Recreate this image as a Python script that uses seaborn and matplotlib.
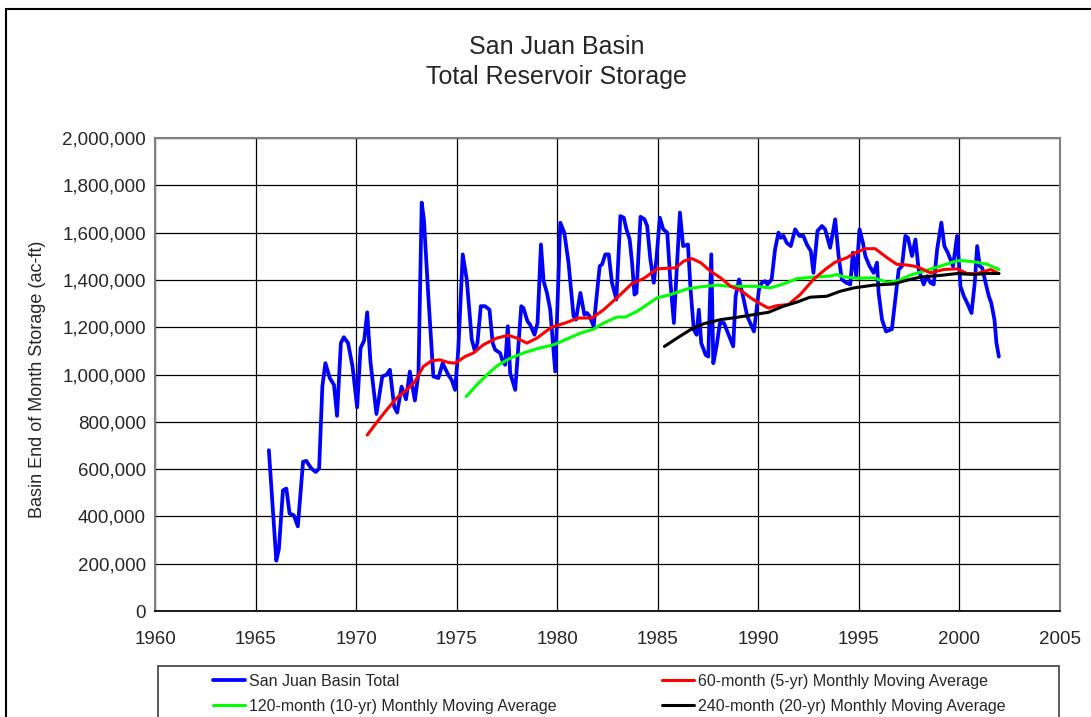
import pandas as pd
import matplotlib.pyplot as plt
import matplotlib.ticker as mticker
from matplotlib.patches import Rectangle
import seaborn as sns

sns.set_theme(style="white")
plt.rcParams['font.family'] = ['Liberation Sans', 'DejaVu Sans']

# Total de almacenamiento (fin de mes)
anio_total = [1965.66, 1966.03, 1966.16, 1966.36, 1966.53, 1966.69, 1966.90, 1967.10, 1967.36, 1967.52,
              1967.77, 1967.99, 1968.16, 1968.32, 1968.47, 1968.69, 1968.90, 1969.05, 1969.24, 1969.39,
              1969.60, 1969.82, 1970.05, 1970.22, 1970.40, 1970.55, 1970.71, 1971.01, 1971.30, 1971.51,
              1971.68, 1971.89, 1972.04, 1972.26, 1972.48, 1972.67, 1972.92, 1973.10, 1973.26, 1973.37,
              1973.59, 1973.84, 1974.09, 1974.30, 1974.58, 1974.75, 1974.92, 1975.08, 1975.30, 1975.50,
              1975.75, 1975.91, 1976.03, 1976.20, 1976.41, 1976.63, 1976.79, 1976.91, 1977.16, 1977.29,
              1977.41, 1977.54, 1977.66, 1977.91, 1978.21, 1978.32, 1978.52, 1978.65, 1978.87, 1979.02,
              1979.19, 1979.32, 1979.49, 1979.65, 1979.90, 1980.15, 1980.35, 1980.56, 1980.81, 1980.93,
              1981.15, 1981.35, 1981.48, 1981.61, 1981.81, 1982.11, 1982.23, 1982.39, 1982.56, 1982.72,
              1982.94, 1983.14, 1983.31, 1983.44, 1983.60, 1983.72, 1983.84, 1983.94, 1984.14, 1984.34,
              1984.47, 1984.63, 1984.80, 1984.93, 1985.10, 1985.27, 1985.47, 1985.63, 1985.80, 1985.96,
              1986.10, 1986.26, 1986.50, 1986.63, 1986.79, 1986.93, 1987.04, 1987.16, 1987.38, 1987.51,
              1987.66, 1987.76, 1987.92, 1988.09, 1988.29, 1988.49, 1988.75, 1988.87, 1989.04, 1989.20,
              1989.45, 1989.78, 1990.03, 1990.17, 1990.33, 1990.45, 1990.66, 1990.83, 1991.00, 1991.11,
              1991.25, 1991.41, 1991.61, 1991.83, 1992.04, 1992.24, 1992.41, 1992.61, 1992.74, 1992.94,
              1993.16, 1993.32, 1993.57, 1993.82, 1993.99, 1994.15, 1994.37, 1994.57, 1994.70, 1994.87,
              1995.03, 1995.20, 1995.32, 1995.53, 1995.73, 1995.90, 1995.98, 1996.15, 1996.35, 1996.64,
              1996.81, 1996.98, 1997.14, 1997.31, 1997.44, 1997.64, 1997.81, 1997.97, 1998.22, 1998.39,
              1998.56, 1998.72, 1998.89, 1999.10, 1999.25, 1999.42, 1999.68, 1999.88, 2000.05, 2000.22,
              2000.38, 2000.60, 2000.76, 2000.88, 2001.01, 2001.13, 2001.30, 2001.46, 2001.58, 2001.74,
              2001.84, 2001.96]
total = [680000, 213000, 263000, 510000, 518000, 412000, 405000, 358000, 631000, 635000,
         603000, 588000, 603000, 949000, 1048000, 985000, 956000, 825000, 1133000, 1158000,
         1133000, 1034000, 861000, 1112000, 1144000, 1263000, 1055000, 833000, 992000, 999000,
         1020000, 864000, 839000, 949000, 895000, 1013000, 890000, 1006000, 1727000, 1656000,
         1331000, 992000, 985000, 1048000, 999000, 977000, 935000, 1105000, 1508000, 1402000,
         1147000, 1098000, 1133000, 1289000, 1289000, 1274000, 1133000, 1105000, 1091000, 1055000,
         1041000, 1204000, 1006000, 935000, 1289000, 1281000, 1225000, 1211000, 1168000, 1218000,
         1550000, 1395000, 1345000, 1274000, 1013000, 1642000, 1600000, 1473000, 1246000, 1232000,
         1345000, 1253000, 1260000, 1246000, 1204000, 1458000, 1466000, 1508000, 1508000, 1388000,
         1317000, 1670000, 1663000, 1614000, 1572000, 1473000, 1338000, 1345000, 1667000, 1656000,
         1628000, 1487000, 1388000, 1487000, 1663000, 1614000, 1600000, 1388000, 1218000, 1473000,
         1685000, 1543000, 1550000, 1359000, 1190000, 1168000, 1274000, 1133000, 1083000, 1076000,
         1508000, 1048000, 1119000, 1218000, 1218000, 1175000, 1119000, 1331000, 1402000, 1345000,
         1246000, 1182000, 1359000, 1388000, 1395000, 1381000, 1402000, 1529000, 1600000, 1578000,
         1586000, 1557000, 1543000, 1614000, 1586000, 1586000, 1550000, 1522000, 1430000, 1607000,
         1628000, 1614000, 1536000, 1656000, 1501000, 1402000, 1388000, 1381000, 1515000, 1416000,
         1614000, 1557000, 1501000, 1458000, 1430000, 1473000, 1345000, 1232000, 1182000, 1192000,
         1317000, 1444000, 1458000, 1586000, 1578000, 1501000, 1571000, 1444000, 1381000, 1416000,
         1388000, 1381000, 1529000, 1642000, 1543000, 1515000, 1458000, 1586000, 1373000, 1331000,
         1303000, 1260000, 1388000, 1543000, 1458000, 1451000, 1388000, 1331000, 1303000, 1232000,
         1133000, 1076000]

# Promedio móvil de 60 meses
anio_60 = [1970.55, 1971.01, 1971.51, 1972.01, 1972.51, 1972.92, 1973.34, 1973.75, 1974.17, 1974.58,
           1974.92, 1975.42, 1975.83, 1976.33, 1976.99, 1977.57, 1977.99, 1978.49, 1978.99, 1979.73,
           1980.40, 1981.06, 1981.73, 1982.31, 1983.14, 1983.72, 1984.30, 1984.97, 1985.88, 1986.30,
           1986.71, 1987.13, 1987.62, 1988.12, 1988.62, 1989.12, 1989.62, 1990.08, 1990.50, 1990.91,
           1991.50, 1992.08, 1992.74, 1993.32, 1993.82, 1994.40, 1994.82, 1995.32, 1995.81, 1996.40,
           1996.89, 1997.39, 1997.89, 1998.55, 1999.22, 1999.88, 2000.38, 2000.88, 2001.55, 2001.96]
prom_60 = [744000, 796000, 850000, 900000, 935000, 970000, 1034000, 1058000, 1062000, 1051000,
           1048000, 1076000, 1091000, 1126000, 1154000, 1166000, 1154000, 1133000, 1154000, 1201000,
           1218000, 1239000, 1239000, 1274000, 1338000, 1385000, 1406000, 1447000, 1451000, 1480000,
           1490000, 1473000, 1437000, 1409000, 1373000, 1356000, 1324000, 1300000, 1281000, 1291000,
           1296000, 1338000, 1402000, 1444000, 1475000, 1494000, 1515000, 1532000, 1532000, 1494000,
           1466000, 1463000, 1456000, 1430000, 1444000, 1447000, 1427000, 1427000, 1444000, 1427000]

# Promedio móvil de 120 meses
anio_120 = [1975.47, 1976.00, 1976.50, 1977.08, 1977.66, 1978.32, 1978.99, 1979.82, 1980.48, 1981.15,
            1981.81, 1982.31, 1982.97, 1983.39, 1983.97, 1984.47, 1984.97, 1985.63, 1986.46, 1987.13,
            1987.96, 1988.62, 1989.29, 1989.92, 1990.58, 1991.25, 1991.91, 1992.74, 1993.57, 1993.90,
            1994.24, 1994.90, 1995.73, 1996.40, 1996.89, 1997.56, 1998.22, 1999.05, 1999.72, 2000.05,
            2000.71, 2001.38, 2001.96]
prom_120 = [907000, 956000, 999000, 1041000, 1069000, 1091000, 1109000, 1126000, 1150000, 1175000,
            1192000, 1218000, 1243000, 1243000, 1267000, 1296000, 1324000, 1338000, 1362000, 1371000,
            1378000, 1373000, 1373000, 1373000, 1366000, 1383000, 1405000, 1412000, 1416000, 1423000,
            1413000, 1407000, 1409000, 1390000, 1395000, 1420000, 1437000, 1458000, 1477000, 1482000,
            1477000, 1466000, 1444000]

# Promedio móvil de 240 meses
anio_240 = [1985.33, 1985.96, 1986.63, 1987.29, 1988.12, 1988.95, 1989.75, 1990.50, 1991.25, 1991.91,
            1992.57, 1993.40, 1994.07, 1994.73, 1995.73, 1996.73, 1997.39, 1998.06, 1999.05, 1999.88,
            2000.71, 2001.38, 2001.96]
prom_240 = [1119000, 1154000, 1190000, 1215000, 1232000, 1242000, 1253000, 1263000, 1289000, 1306000,
            1327000, 1331000, 1352000, 1366000, 1378000, 1383000, 1399000, 1412000, 1419000, 1427000,
            1423000, 1427000, 1427000]

fig = plt.figure(figsize=(10.91, 7.17), dpi=100)
ax = fig.add_axes([0.1421, 0.1478, 0.8295, 0.6597])

sns.lineplot(x=anio_total, y=total, color='#0000FF', linewidth=2.7, label='San Juan Basin Total',
             estimator=None, ax=ax)
sns.lineplot(x=anio_120, y=prom_120, color='#00FF00', linewidth=2.2,
             label='120-month (10-yr) Monthly Moving Average', estimator=None, ax=ax)
sns.lineplot(x=anio_60, y=prom_60, color='#FF0000', linewidth=2.2,
             label='60-month (5-yr) Monthly Moving Average', estimator=None, ax=ax)
sns.lineplot(x=anio_240, y=prom_240, color='black', linewidth=2.2,
             label='240-month (20-yr) Monthly Moving Average', estimator=None, ax=ax)

ax.set_xlim(1960, 2005)
ax.set_ylim(0, 2000000)
ax.set_xticks(range(1960, 2006, 5))
ax.set_yticks(range(0, 2000001, 200000))
ax.yaxis.set_major_formatter(mticker.FuncFormatter(lambda v, p: f'{v:,.0f}'))
ax.grid(True, color='black', linewidth=0.9)
ax.set_axisbelow(True)
for lado in ['left', 'top', 'right']:
    ax.spines[lado].set_color('#808080')
    ax.spines[lado].set_linewidth(1.5)
ax.spines['bottom'].set_color('black')
ax.tick_params(direction='out', length=3.6, width=0.8, color='black', labelsize=13.5)
ax.tick_params(axis='x', pad=11)
ax.tick_params(axis='y', pad=3)
ax.set_xlabel('')
ax.set_ylabel('Basin End of Month Storage (ac-ft)', fontsize=13)
ax.yaxis.set_label_coords(-0.121, 0.49)

fig.text(0.51, 0.9135, 'San Juan Basin\nTotal Reservoir Storage', ha='center', va='center',
         fontsize=18, linespacing=1.3)

# Leyenda en dos columnas
handles, labels = ax.get_legend_handles_labels()
ax.get_legend().remove()
fig.legend(handles, labels, ncol=2, loc='upper left', bbox_to_anchor=(0.1955, 0.0600),
           frameon=False, fontsize=11.5, handlelength=2.0, handletextpad=0.25,
           columnspacing=6.6, borderpad=0, borderaxespad=0, labelspacing=0.6)

# Marcos
fig.patches.append(Rectangle((0.1448, -0.05), 0.8259, 0.1211, transform=fig.transFigure,
                             fill=False, edgecolor='#404040', linewidth=1.2))
fig.patches.append(Rectangle((0.0055, -0.05), 1.1, 1.0374, transform=fig.transFigure,
                             fill=False, edgecolor='black', linewidth=1.5))

plt.savefig('out.png', dpi=100)
